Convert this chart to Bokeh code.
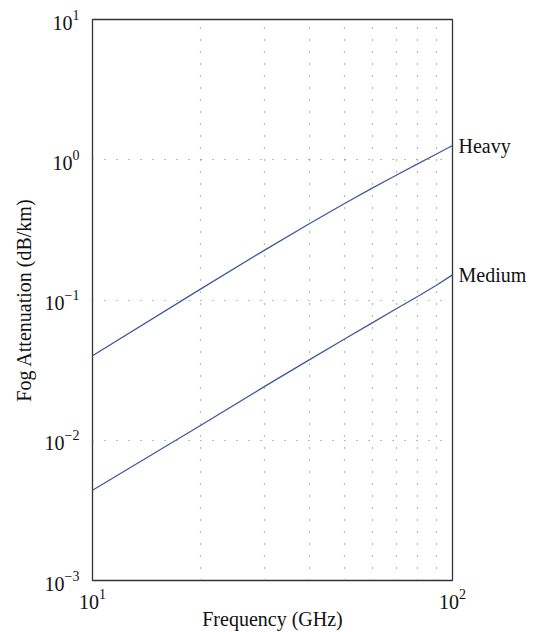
from bokeh.plotting import figure
from bokeh.models import FixedTicker, LogTickFormatter, LogAxis
from bokeh.embed import file_html
from bokeh.resources import INLINE

# Data
freq = [10, 20, 30, 40, 50, 60, 70, 80, 90, 100]
heavy = [0.040, 0.120, 0.226, 0.350, 0.486, 0.630, 0.779, 0.934, 1.095, 1.263]
medium = [0.0044, 0.0128, 0.0241, 0.0374, 0.0525, 0.069, 0.087, 0.106, 0.127, 0.151]
series_names = ["Heavy", "Medium"]
x_grid = [20, 30, 40, 50, 60, 70, 80, 90]
y_grid = [1e-2, 1e-1, 1e0]
x_ticks = [10, 100]
y_ticks = [1e-3, 1e-2, 1e-1, 1e0, 1e1]

FONT = "Liberation Serif"
LINE = "#3e5a9c"
FS = "20px"

p = figure(width=538, height=632, x_axis_type="log", y_axis_type="log",
           x_range=(10, 100), y_range=(1e-3, 1e1),
           output_backend="svg", toolbar_location=None,
           min_border_left=92, min_border_right=86,
           min_border_top=19, min_border_bottom=52)

p.background_fill_color = "white"
p.border_fill_color = "white"
p.outline_line_color = "#333333"
p.outline_line_width = 1.3

p.line(freq, heavy, line_color=LINE, line_width=1.3)
p.line(freq, medium, line_color=LINE, line_width=1.3)

p.xaxis.ticker = FixedTicker(ticks=x_ticks)
p.yaxis.ticker = FixedTicker(ticks=y_ticks)
p.xgrid.ticker = FixedTicker(ticks=x_grid)
p.ygrid.ticker = FixedTicker(ticks=y_grid)
for g in (p.xgrid, p.ygrid):
    g.grid_line_color = "#777777"
    g.grid_line_dash = "1 11"
    g.grid_line_width = 1.2

for ax in (p.xaxis, p.yaxis):
    ax.formatter = LogTickFormatter()
    ax.axis_line_color = None
    ax.major_tick_line_color = None
    ax.minor_tick_line_color = None
    ax.major_label_text_font = FONT
    ax.major_label_text_font_size = FS
    ax.major_label_text_color = "#111111"
    ax.axis_label_text_font = FONT
    ax.axis_label_text_font_size = FS
    ax.axis_label_text_font_style = "normal"
    ax.axis_label_text_color = "#111111"

p.xaxis.axis_label = "Frequency (GHz)"
p.yaxis.axis_label = "Fog Attenuation (dB/km)"
p.xaxis.major_label_standoff = 2
p.xaxis.axis_label_standoff = -4
p.yaxis.major_label_standoff = 7
p.yaxis.axis_label_standoff = 7

# Curve labels at the right end of each series, placed through the y scale
end_vals = [heavy[-1], medium[-1]]
right = LogAxis(ticker=FixedTicker(ticks=end_vals),
                major_label_overrides={v: n for v, n in zip(end_vals, series_names)},
                axis_line_color=None, major_tick_line_color=None,
                minor_tick_line_color=None, major_label_standoff=0,
                major_label_text_font=FONT, major_label_text_font_size=FS,
                major_label_text_color="#111111")
p.add_layout(right, "right")

open("out.html", "w").write(file_html(p, INLINE))
